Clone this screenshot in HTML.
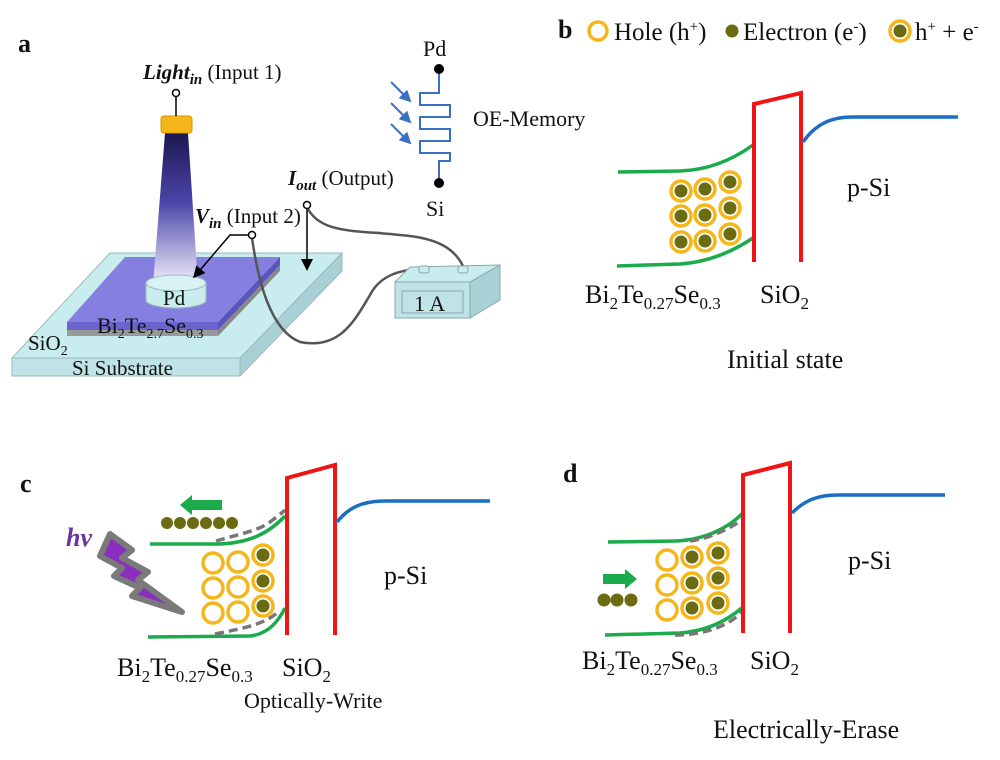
<!DOCTYPE html>
<html><head><meta charset="utf-8"><style>
body{margin:0;background:#fff}
svg{display:block}
text{font-family:"Liberation Serif",serif;fill:#111}
.lb{font-weight:bold;font-size:26px}
</style></head><body>
<svg width="1000" height="760" viewBox="0 0 1000 760">
<defs>
<linearGradient id="beam" x1="0" y1="0" x2="0" y2="1">
<stop offset="0" stop-color="#1b1850"/><stop offset="0.45" stop-color="#4a44a8"/><stop offset="1" stop-color="#f2f0fb"/>
</linearGradient>
<g id="hp"><circle r="10" fill="#fff" stroke="#f4b619" stroke-width="3.5"/></g>
<g id="hb"><circle r="10" fill="#fff" stroke="#f4b619" stroke-width="3.5"/><circle r="6.5" fill="#6b6b12"/></g>
<marker id="ar" markerWidth="8" markerHeight="8" refX="6" refY="4" orient="auto"><path d="M0,0 L8,4 L0,8z" fill="#000"/></marker>
<marker id="ab" markerWidth="6" markerHeight="6" refX="5" refY="3" orient="auto"><path d="M0,0 L6,3 L0,6z" fill="#3a6fc4"/></marker>
</defs>

<text x="18" y="52" class="lb">a</text>
<text x="558" y="38" class="lb">b</text>
<text x="20" y="492" class="lb">c</text>
<text x="563" y="482" class="lb">d</text>

<!-- Panel a -->
<polygon points="12,358 240,358 240,376 12,376" fill="#bfe3e6" stroke="#9bb" stroke-width="1"/>
<polygon points="240,358 342,253 342,271 240,376" fill="#a9d0d4" stroke="#9bb" stroke-width="1"/>
<polygon points="110,253 342,253 240,358 12,358" fill="#c9ecee" stroke="#9bb" stroke-width="1"/>
<polygon points="67,330 218,330 218,336 67,336" fill="#999"/>
<polygon points="218,330 280,265 280,271 218,336" fill="#888"/>
<polygon points="67,322 218,322 218,330 67,330" fill="#6a64cf"/>
<polygon points="218,322 280,257 280,265 218,330" fill="#5a54be"/>
<polygon points="125,257 280,257 218,322 67,322" fill="#8580e0"/>
<polygon points="165,133 188,133 198,285 153,285" fill="url(#beam)"/>
<rect x="161" y="116" width="31" height="17" rx="3" fill="#f4b619" stroke="#d69a00"/>
<line x1="176" y1="96" x2="176" y2="116" stroke="#000" stroke-width="1.5"/>
<circle cx="176" cy="93" r="3.5" fill="#fff" stroke="#000" stroke-width="1.5"/>
<path d="M146,283 v17 a30,8 0 0 0 60,0 v-17" fill="#c9ecee" stroke="#9bb"/>
<ellipse cx="176" cy="283" rx="30" ry="8" fill="#d9f2f3" stroke="#9bb"/>
<text x="163" y="305" font-size="21">Pd</text>
<text x="97" y="333" font-size="22">Bi<tspan font-size="14" dy="5">2</tspan><tspan dy="-5">Te</tspan><tspan font-size="14" dy="5">2.7</tspan><tspan dy="-5">Se</tspan><tspan font-size="14" dy="5">0.3</tspan></text>
<text x="28" y="350" font-size="21">SiO<tspan font-size="14" dy="5">2</tspan></text>
<text x="72" y="375" font-size="21">Si Substrate</text>
<text x="143" y="79" font-size="21"><tspan font-weight="bold" font-style="italic">Light</tspan><tspan font-weight="bold" font-style="italic" font-size="15" dy="5">in</tspan><tspan dy="-5"> (Input 1)</tspan></text>
<text x="195" y="223" font-size="21"><tspan font-weight="bold" font-style="italic">V</tspan><tspan font-weight="bold" font-style="italic" font-size="15" dy="5">in</tspan><tspan dy="-5"> (Input 2)</tspan></text>
<text x="288" y="185" font-size="21"><tspan font-weight="bold" font-style="italic">I</tspan><tspan font-weight="bold" font-style="italic" font-size="15" dy="5">out</tspan><tspan dy="-5"> (Output)</tspan></text>
<polyline points="249,235 230,235 195,276" fill="none" stroke="#000" stroke-width="1.5" marker-end="url(#ar)"/>
<line x1="307" y1="209" x2="307" y2="268" stroke="#000" stroke-width="1.5" marker-end="url(#ar)"/>
<path d="M252,238 C258,280 270,330 300,342 C340,350 355,320 370,295 C380,275 400,270 424,268" fill="none" stroke="#555" stroke-width="2.5"/>
<path d="M307,207 C320,235 360,230 400,235 C440,238 455,250 463,266" fill="none" stroke="#555" stroke-width="2.5"/>
<circle cx="252" cy="235" r="3.5" fill="#fff" stroke="#000" stroke-width="1.5"/>
<circle cx="307" cy="205" r="3.5" fill="#fff" stroke="#000" stroke-width="1.5"/>
<polygon points="410,267 500,265 470,282 395,282" fill="#c9ecee" stroke="#8aa"/>
<polygon points="470,282 500,265 500,300 470,318" fill="#a9d0d4" stroke="#8aa"/>
<rect x="395" y="282" width="75" height="36" fill="#bfe3e6" stroke="#8aa"/>
<rect x="402" y="291" width="61" height="22" fill="none" stroke="#8aa"/>
<text x="414" y="311" font-size="22">1 A</text>
<rect x="419" y="266" width="10" height="7" rx="2" fill="#c9ecee" stroke="#8aa"/>
<rect x="458" y="266" width="10" height="7" rx="2" fill="#c9ecee" stroke="#8aa"/>
<!-- OE memory -->
<text x="423" y="56" font-size="22">Pd</text>
<text x="426" y="216" font-size="22">Si</text>
<text x="473" y="126" font-size="22">OE-Memory</text>
<polyline points="439,69 439,93 420,93 420,105 450,105 450,117 420,117 420,129 450,129 450,141 420,141 420,153 450,153 450,161 439,161 439,183" fill="none" stroke="#3a6fc4" stroke-width="2"/>
<circle cx="439" cy="69" r="5" fill="#000"/>
<circle cx="439" cy="183" r="5" fill="#000"/>
<line x1="391" y1="82" x2="410" y2="101" stroke="#3a6fc4" stroke-width="2" marker-end="url(#ab)"/>
<line x1="391" y1="103" x2="410" y2="122" stroke="#3a6fc4" stroke-width="2" marker-end="url(#ab)"/>
<line x1="391" y1="124" x2="410" y2="143" stroke="#3a6fc4" stroke-width="2" marker-end="url(#ab)"/>

<!-- Legend -->
<circle cx="598" cy="31" r="9" fill="#fff" stroke="#f4b619" stroke-width="3.5"/>
<text x="614" y="40" font-size="25">Hole (h<tspan font-size="15" dy="-9">+</tspan><tspan dy="9">)</tspan></text>
<circle cx="732" cy="31" r="6.5" fill="#6b6b12"/>
<text x="743" y="40" font-size="25">Electron (e<tspan font-size="15" dy="-9">-</tspan><tspan dy="9">)</tspan></text>
<use href="#hb" x="900" y="31"/>
<text x="915" y="40" font-size="25">h<tspan font-size="15" dy="-9">+</tspan><tspan dy="9"> + e</tspan><tspan font-size="15" dy="-9">-</tspan></text>

<!-- Panel b -->
<path d="M618,172 L680,171 C710,170 735,158 753,145" fill="none" stroke="#1bab4a" stroke-width="3.5"/>
<path d="M617,266 L680,264 C710,262 735,250 753,238" fill="none" stroke="#1bab4a" stroke-width="3.5"/>
<polyline points="754,262 754,104 801,93 801,262" fill="none" stroke="#f01414" stroke-width="4"/>
<path d="M803,142 C815,125 830,117 852,117 L958,117" fill="none" stroke="#1a6fc4" stroke-width="3.5"/>
<use href="#hb" x="681" y="191"/><use href="#hb" x="705" y="189"/><use href="#hb" x="730" y="182"/>
<use href="#hb" x="681" y="216"/><use href="#hb" x="705" y="215"/><use href="#hb" x="730" y="208"/>
<use href="#hb" x="681" y="242"/><use href="#hb" x="705" y="241"/><use href="#hb" x="730" y="234"/>
<text x="585" y="303" font-size="26">Bi<tspan font-size="17" dy="6">2</tspan><tspan dy="-6">Te</tspan><tspan font-size="17" dy="6">0.27</tspan><tspan dy="-6">Se</tspan><tspan font-size="17" dy="6">0.3</tspan></text>
<text x="760" y="303" font-size="26">SiO<tspan font-size="17" dy="6">2</tspan></text>
<text x="847" y="196" font-size="26">p-Si</text>
<text x="727" y="368" font-size="26">Initial state</text>

<!-- Panel c -->
<path d="M150,544 L215,544 C250,544 270,532 285,516" fill="none" stroke="#1bab4a" stroke-width="3.5"/>
<path d="M148,637 L250,636 C268,634 278,622 285,608" fill="none" stroke="#1bab4a" stroke-width="3.5"/>
<path d="M216,541 C240,534 260,530 270,522 C278,516 283,512 285,510" fill="none" stroke="#777" stroke-width="3.5" stroke-dasharray="9,5"/>
<path d="M215,634 C245,628 265,624 278,612" fill="none" stroke="#777" stroke-width="3.5" stroke-dasharray="9,5"/>
<polyline points="287,635 287,478 335,465 335,635" fill="none" stroke="#f01414" stroke-width="4"/>
<path d="M337,522 C348,508 362,501 385,501 L490,501" fill="none" stroke="#1a6fc4" stroke-width="3.5"/>
<use href="#hp" x="213" y="563"/><use href="#hp" x="238" y="562"/><use href="#hb" x="263" y="555"/>
<use href="#hp" x="213" y="588"/><use href="#hp" x="238" y="587"/><use href="#hb" x="263" y="581"/>
<use href="#hp" x="213" y="613"/><use href="#hp" x="238" y="612"/><use href="#hb" x="263" y="606"/>
<g fill="#6b6b12"><circle cx="167" cy="523" r="6"/><circle cx="180" cy="523" r="6"/><circle cx="193" cy="523" r="6"/><circle cx="206" cy="523" r="6"/><circle cx="219" cy="523" r="6"/><circle cx="232" cy="523" r="6"/></g>
<polygon points="222,500 192,500 192,495 180,505 192,515 192,510 222,510" fill="#1bab4a"/>
<text x="66" y="546" font-size="26" font-weight="bold" font-style="italic" style="fill:#6a35a0">hv</text>
<polygon points="110,534 132,550 122,558 148,572 138,580 182,612 132,596 140,588 114,576 122,568 100,556" fill="#8a2ec0" stroke="#7a7a7a" stroke-width="6" stroke-linejoin="round"/>
<text x="117" y="676" font-size="26">Bi<tspan font-size="17" dy="6">2</tspan><tspan dy="-6">Te</tspan><tspan font-size="17" dy="6">0.27</tspan><tspan dy="-6">Se</tspan><tspan font-size="17" dy="6">0.3</tspan></text>
<text x="282" y="676" font-size="26">SiO<tspan font-size="17" dy="6">2</tspan></text>
<text x="384" y="584" font-size="26">p-Si</text>
<text x="244" y="708" font-size="22">Optically-Write</text>

<!-- Panel d -->
<path d="M608,542 L675,541 C705,540 728,528 743,513" fill="none" stroke="#1bab4a" stroke-width="3.5"/>
<path d="M605,635 L680,633 C708,631 728,620 743,607" fill="none" stroke="#1bab4a" stroke-width="3.5"/>
<path d="M690,541 C712,538 730,528 742,520" fill="none" stroke="#777" stroke-width="3.5" stroke-dasharray="9,5"/>
<path d="M675,635 C705,635 728,626 742,612" fill="none" stroke="#777" stroke-width="3.5" stroke-dasharray="9,5"/>
<polyline points="743,633 743,475 790,463 790,633" fill="none" stroke="#f01414" stroke-width="4"/>
<path d="M792,513 C805,500 818,495 838,495 L945,495" fill="none" stroke="#1a6fc4" stroke-width="3.5"/>
<use href="#hp" x="667" y="560"/><use href="#hb" x="692" y="557"/><use href="#hb" x="718" y="553"/>
<use href="#hp" x="667" y="585"/><use href="#hb" x="692" y="583"/><use href="#hb" x="718" y="578"/>
<use href="#hp" x="667" y="610"/><use href="#hb" x="692" y="608"/><use href="#hb" x="718" y="603"/>
<g fill="#6b6b12"><circle cx="604" cy="600" r="6.5"/><circle cx="617" cy="600" r="6.5"/><circle cx="631" cy="600" r="6.5"/></g>
<polygon points="603,574 625,574 625,569 637,579 625,589 625,584 603,584" fill="#1bab4a"/>
<text x="582" y="669" font-size="26">Bi<tspan font-size="17" dy="6">2</tspan><tspan dy="-6">Te</tspan><tspan font-size="17" dy="6">0.27</tspan><tspan dy="-6">Se</tspan><tspan font-size="17" dy="6">0.3</tspan></text>
<text x="750" y="669" font-size="26">SiO<tspan font-size="17" dy="6">2</tspan></text>
<text x="848" y="569" font-size="26">p-Si</text>
<text x="713" y="738" font-size="26">Electrically-Erase</text>
</svg>
</body></html>
